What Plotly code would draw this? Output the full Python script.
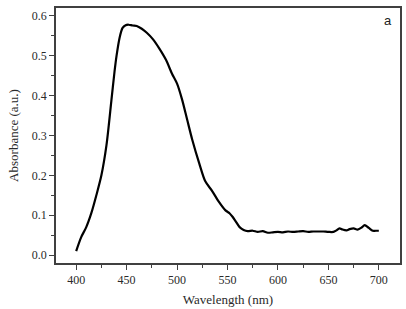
import plotly.graph_objects as go

wavelength = [400, 405, 410, 415, 420, 425, 430, 435, 438, 440, 443, 446, 449, 452, 456, 460, 465, 470, 476, 482, 489, 495, 500, 505, 510, 515, 522, 528, 535, 541, 548, 552, 555, 558, 562, 566, 570, 575, 580, 585, 590, 595, 600, 605, 610, 615, 620, 625, 630, 635, 640, 645, 650, 655, 658, 661, 664, 668, 671, 675, 679, 683, 686, 690, 694, 697, 700]
absorbance = [0.01, 0.045, 0.07, 0.105, 0.15, 0.2, 0.275, 0.39, 0.46, 0.5, 0.545, 0.57, 0.577, 0.578, 0.576, 0.575, 0.568, 0.558, 0.542, 0.52, 0.49, 0.455, 0.43, 0.39, 0.34, 0.29, 0.23, 0.185, 0.16, 0.135, 0.112, 0.105, 0.096, 0.085, 0.07, 0.063, 0.06, 0.061, 0.058, 0.06, 0.056, 0.057, 0.058, 0.057, 0.059, 0.058, 0.059, 0.06, 0.058, 0.059, 0.059, 0.059, 0.058, 0.058, 0.062, 0.067, 0.064, 0.062, 0.065, 0.067, 0.064, 0.069, 0.075, 0.068, 0.061, 0.061, 0.061]

x_ticks = [400, 450, 500, 550, 600, 650, 700]
y_ticks = [0.0, 0.1, 0.2, 0.3, 0.4, 0.5, 0.6]

fig = go.Figure()
fig.add_trace(go.Scatter(
    x=wavelength, y=absorbance, mode="lines",
    line=dict(color="black", width=2.2, shape="spline", smoothing=0.8),
    showlegend=False, hoverinfo="skip",
))

axis_color = "#404040"
font_family = "Liberation Serif, Times New Roman, serif"

fig.update_layout(
    width=406, height=309,
    margin=dict(l=56, r=4, t=8, b=46),
    paper_bgcolor="white", plot_bgcolor="white",
    font=dict(family=font_family, size=12, color="#2a2a2a"),
    xaxis=dict(
        range=[380, 721], tickvals=x_ticks,
        ticks="outside", ticklen=5, tickwidth=1, tickcolor=axis_color,
        minor=dict(tickvals=[425, 475, 525, 575, 625, 675], ticks="outside", ticklen=3, tickcolor=axis_color),
        showline=True, linecolor=axis_color, linewidth=1.5, mirror=True,
        showgrid=False, zeroline=False,
        title=dict(text="Wavelength (nm)", font=dict(size=13, family=font_family), standoff=9),
        tickfont=dict(size=12),
    ),
    yaxis=dict(
        range=[-0.02, 0.62], tickvals=y_ticks, tickformat=".1f",
        ticks="outside", ticklen=5, tickwidth=1, tickcolor=axis_color,
        minor=dict(tickvals=[0.05, 0.15, 0.25, 0.35, 0.45, 0.55], ticks="outside", ticklen=3, tickcolor=axis_color),
        showline=True, linecolor=axis_color, linewidth=1.5, mirror=True,
        showgrid=False, zeroline=False,
        title=dict(text="Absorbance (a.u.)", font=dict(size=13, family=font_family), standoff=10),
        tickfont=dict(size=12),
    ),
    annotations=[dict(
        text="a", x=0.965, y=0.95, xref="paper", yref="paper",
        xanchor="center", yanchor="middle", showarrow=False,
        font=dict(family="Liberation Sans, Arial, sans-serif", size=13, color="#222222"),
    )],
)

fig.write_html(
    "out.html",
    config={"displayModeBar": False},
    post_script="document.body.style.margin='0';document.body.style.overflow='hidden';",
)
